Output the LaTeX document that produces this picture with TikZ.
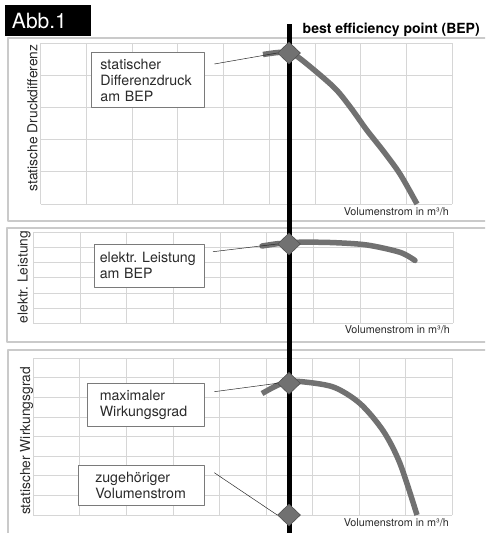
\documentclass[tikz,border=0pt]{standalone}
\usepackage{fontspec}
\setmainfont{TeX Gyre Heros}
\usetikzlibrary{shapes.geometric, positioning}
\frenchspacing

\definecolor{curvegray}{HTML}{717171}
\definecolor{edgegray}{HTML}{505050}
\definecolor{boxgray}{HTML}{7A7A7A}
\definecolor{gridgray}{HTML}{D6D6D6}
\definecolor{framegray}{HTML}{CACACA}
\definecolor{textgray}{HTML}{2A2A2A}

\begin{document}
\begin{tikzpicture}
    [x=1pt, y=-1pt, line join=round,
    panel/.style={draw=framegray, line width=1.1pt},
    gridline/.style={draw=gridgray, line width=0.9pt},
    infobox/.style={rectangle, draw=boxgray, fill=white, line width=0.9pt, align=left,
        anchor=north west, inner ysep=2pt, text=textgray, font=\fontsize{14.2}{16}\selectfont},
    bep/.style={diamond, fill=curvegray, draw=edgegray, line width=0.6pt, inner sep=0pt,
        minimum width=23pt, minimum height=22pt},
    kennlinie/.style={draw=curvegray, line width=5.5pt},
    axislbl/.style={rotate=90, text=textgray, font=\fontsize{13.8}{16}\selectfont},
    flowlbl/.style={anchor=base east, text=textgray, font=\fontsize{10.8}{12}\selectfont},
    pointer/.style={draw=textgray, line width=0.5pt}]

    \useasboundingbox (0,0) rectangle (485,533);
    \clip (0,0) rectangle (485,533);

    % panels and grids
    \draw[panel] (8,38) rectangle (495,221);
    \draw[panel] (7,228) rectangle (495,342);
    \draw[panel] (8,350) rectangle (495,545);

    \foreach \xa/\ya/\xb/\yb/\rows in {40.7/43.3/452.3/204/5, 33.3/232.3/453.3/323.3/6, 33.3/358.3/452.3/515/8} {
        \foreach \i in {0,...,9}
            \draw[gridline] ({\xa+\i*(\xb-\xa)/9},\ya) -- ({\xa+\i*(\xb-\xa)/9},\yb);
        \foreach \j in {0,...,\rows}
            \draw[gridline] (\xa,{\ya+\j*(\yb-\ya)/\rows}) -- (\xb,{\ya+\j*(\yb-\ya)/\rows});
    }

    % axis labels
    \node[axislbl] (yDruck) at (32.5,118) {statische Druckdifferenz};
    \node[axislbl] (yLeistung) at (24,277) {elektr. Leistung};
    \node[axislbl] (yWirk) at (26.5,441) {statischer Wirkungsgrad};

    \node[flowlbl] (xDruck) at (452.3,215) {Volumenstrom in m³/h};
    \node[flowlbl] (xLeistung) at (453.3,333.5) {Volumenstrom in m³/h};
    \node[flowlbl] (xWirk) at (452.3,526) {Volumenstrom in m³/h};

    % curves
    \draw[kennlinie] plot[smooth] coordinates {(263,54.5) (278,52.5) (289,53) (300,58.5)
        (333.3,86.7) (350,106.7) (366.7,130) (383.3,151) (400,174) (417,204)};
    \draw[kennlinie, line cap=round] plot[smooth] coordinates {(262,246) (278.3,243.6) (289,243.5)
        (300,242.2) (333,242.6) (367,245) (400,252.3) (415,260.5)};
    \draw[kennlinie] plot[smooth] coordinates {(262,393.5) (278,385) (289,382.5) (300,381.5)
        (333.3,387) (360,403.5) (383.3,431) (400,463.5) (417,515)};

    % best efficiency point
    \draw[line width=5pt] (289.3,24) -- (289.3,540);
    \node[anchor=base west, inner xsep=0pt, font=\bfseries\fontsize{14}{16}\selectfont] (title) at (302.5,33.3)
        {best efficiency point (BEP)};
    \node[anchor=north west, fill=black, text=white, align=left, inner xsep=6.7pt,
        text width=72.3pt, minimum height=30.7pt, font=\fontsize{21}{22}\selectfont]
        (abb) at (5,5) {Abb.1};

    % info boxes
    \node[infobox, inner xsep=9pt, text width=95pt, minimum height=55pt] (lblDruck) at (91,52)
        {statischer\\Differenzdruck\\am BEP};
    \node[infobox, inner xsep=5pt, text width=100pt, minimum height=42.7pt] (lblLeistung) at (94.3,244)
        {elektr. Leistung\\am BEP};
    \node[infobox, inner xsep=12.6pt, text width=92pt, minimum height=42.7pt] (lblWirk) at (86.7,383.3)
        {maximaler\\Wirkungsgrad};
    \node[infobox, inner xsep=16.5pt, text width=92.7pt, minimum height=40pt] (lblVol) at (78.3,465)
        {zugehöriger\\Volumenstrom};

    \coordinate (pDruck) at (214.3,64);
    \coordinate (pLeistung) at (213,251.7);
    \coordinate (pWirk) at (214.3,391.7);
    \coordinate (pVol) at (214.3,472.7);

    \node[bep] (dDruck) at (289,53) {};
    \node[bep] (dLeistung) at (289,244) {};
    \node[bep] (dWirk) at (289,383.3) {};
    \node[bep] (dVol) at (289,515) {};

    \draw[pointer] (pDruck) -- (dDruck.west);
    \draw[pointer] (pLeistung) -- (dLeistung.west);
    \draw[pointer] (pWirk) -- (dWirk.west);
    \draw[pointer] (pVol) -- (dVol.west);

\end{tikzpicture}
\end{document}
